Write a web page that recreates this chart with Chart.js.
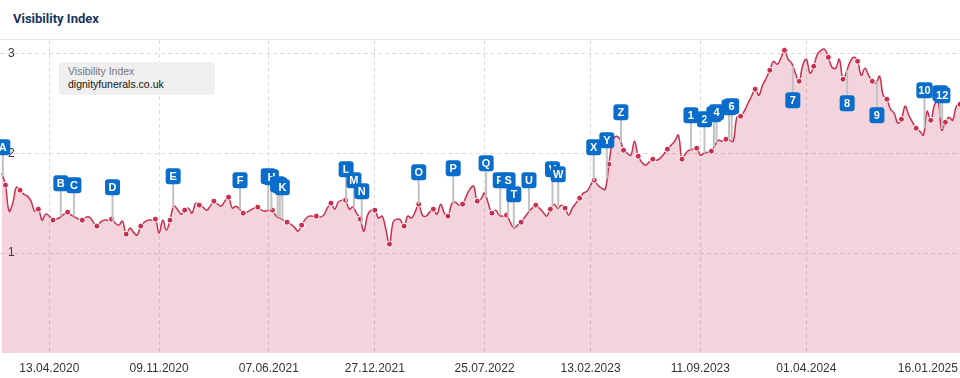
<!DOCTYPE html>
<html><head><meta charset="utf-8">
<script src="https://cdn.jsdelivr.net/npm/chart.js@4.4.1/dist/chart.umd.min.js"></script>
<style>
html,body{margin:0;padding:0;background:#fff;}
#wrap{position:relative;width:960px;height:378px;overflow:hidden;font-family:"Liberation Sans",Arial,sans-serif;}
#title{position:absolute;left:13px;top:11px;font:700 13px Roboto,sans-serif;color:#17375e;}
#sep{position:absolute;left:0;top:39px;width:960px;height:1px;background:#e6e6e6;}
#cv{position:absolute;left:0;top:40px;}
#legend{position:absolute;left:59px;top:62px;width:156px;height:33px;background:#efefef;border-radius:4px;box-sizing:border-box;padding:3px 0 0 9px;font-size:10.5px;line-height:13px;}
#legend .a{color:#777;}
#legend .b{color:#111;}
</style></head>
<body>
<div id="wrap">
  <div id="title">Visibility Index</div>
  <div id="sep"></div>
  <canvas id="cv" width="960" height="338"></canvas>
  <div id="legend"><div class="a">Visibility Index</div><div class="b">dignityfunerals.co.uk</div></div>
</div>
<script>
// ---- data ----
const startDate = '13.01.2020'; // first weekly value (Monday)
const visibility = [
1.80,1.68,1.42,1.50,1.66,1.63,1.59,1.57,1.52,1.42,
1.44,1.33,1.39,1.37,1.33,1.34,1.36,1.39,1.41,1.38,
1.36,1.34,1.33,1.36,1.36,1.31,1.27,1.31,1.33,1.33,
1.34,1.30,1.28,1.32,1.19,1.25,1.21,1.18,1.27,1.31,
1.33,1.33,1.34,1.20,1.33,1.23,1.33,1.47,1.44,1.39,
1.43,1.45,1.40,1.50,1.48,1.46,1.43,1.47,1.52,1.49,
1.47,1.52,1.56,1.45,1.47,1.44,1.40,1.41,1.43,1.45,
1.46,1.43,1.42,1.43,1.43,1.37,1.35,1.33,1.31,1.29,
1.26,1.22,1.28,1.34,1.37,1.37,1.37,1.36,1.38,1.45,
1.50,1.44,1.51,1.53,1.53,1.44,1.46,1.40,1.34,1.22,
1.38,1.43,1.43,1.35,1.37,1.24,1.09,1.31,1.34,1.33,
1.27,1.37,1.35,1.41,1.49,1.38,1.37,1.41,1.44,1.39,
1.49,1.40,1.37,1.49,1.51,1.48,1.49,1.57,1.64,1.67,
1.52,1.54,1.60,1.50,1.40,1.43,1.38,1.37,1.38,1.31,
1.25,1.28,1.31,1.36,1.41,1.45,1.48,1.45,1.41,1.37,
1.44,1.49,1.45,1.48,1.45,1.38,1.45,1.50,1.55,1.60,
1.62,1.68,1.73,1.68,1.65,1.64,1.89,2.12,2.17,2.14,
2.03,2.00,1.98,2.12,1.97,1.91,1.88,1.91,1.94,1.93,
1.95,1.99,2.04,2.08,2.12,2.18,1.94,2.00,2.03,2.04,
2.05,1.98,2.00,2.01,2.02,2.08,2.13,2.12,2.14,2.13,
2.12,2.36,2.37,2.42,2.50,2.57,2.64,2.58,2.68,2.75,
2.83,2.92,2.89,2.95,3.03,2.94,2.90,2.80,2.72,2.88,
2.94,2.80,2.87,2.99,3.03,3.04,2.96,2.86,2.85,2.94,
2.74,2.82,2.92,2.96,2.92,2.78,2.85,2.78,2.72,2.70,
2.77,2.58,2.54,2.44,2.40,2.30,2.34,2.47,2.38,2.31,
2.25,2.22,2.18,2.42,2.33,2.48,2.53,2.23,2.31,2.36,
2.33,2.47,2.49
];
const tickDates = ['13.04.2020','09.11.2020','07.06.2021','27.12.2021','25.07.2022','13.02.2023','11.09.2023','01.04.2024','16.01.2025'];
const yTicks = [1, 2, 3];
const markerLabels = ['A','B','C','D','E','F','G','H','I','J','K','L','M','N','O','P','Q','R','S','T','U','V','W','X','Y','Z','1','2','3','4','5','6','7','8','9','10','11','12'];
const markerDates = ['15.01.2020','05.05.2020','30.05.2020','12.08.2020','06.12.2020','13.04.2021','06.06.2021','12.06.2021','24.06.2021','28.06.2021','03.07.2021','02.11.2021','17.11.2021','02.12.2021','21.03.2022','26.05.2022','28.07.2022','24.08.2022','08.09.2022','19.09.2022','18.10.2022','02.12.2022','13.12.2022','19.02.2023','16.03.2023','12.04.2023','24.08.2023','19.09.2023','07.10.2023','12.10.2023','05.11.2023','10.11.2023','06.03.2024','18.06.2024','14.08.2024','13.11.2024','13.12.2024','17.12.2024'];

// ---- helpers ----
function toUTC(s){ const [d,m,y] = s.split('.').map(Number); return Date.UTC(y, m-1, d); }
const START = toUTC(startDate);
function weekOf(s){ return (toUTC(s) - START) / (7*864e5); }

// ---- layout (presentation) ----
const markerBoxLevels = [2.06,1.70,1.68,1.66,1.77,1.73,1.77,1.76,1.69,1.68,1.66,1.84,1.73,1.62,1.81,1.85,1.90,1.73,1.73,1.59,1.73,1.84,1.79,2.06,2.13,2.41,2.38,2.34,2.39,2.41,2.46,2.47,2.53,2.50,2.38,2.63,2.60,2.58];

const points = visibility.map((v,i)=>({x:i, y:v}));
const tickWeeks = tickDates.map(weekOf);

const markerPlugin = {
  id:'markers',
  afterDatasetsDraw(chart){
    const {ctx, scales:{x, y}} = chart;
    const items = markerDates.map((d,k)=>{
      const w = weekOf(d);
      const i0 = Math.max(0, Math.min(visibility.length-2, Math.floor(w)));
      const f = w - i0;
      const v = visibility[i0] + (visibility[i0+1]-visibility[i0])*f;
      return {label: markerLabels[k], px: x.getPixelForValue(w), lineY: y.getPixelForValue(v), boxY: y.getPixelForValue(markerBoxLevels[k])};
    });
    ctx.save();
    ctx.strokeStyle = '#c2c2c2'; ctx.lineWidth = 2;
    items.forEach(it=>{ ctx.beginPath(); ctx.moveTo(it.px, it.boxY); ctx.lineTo(it.px, it.lineY); ctx.stroke(); });
    ctx.font = 'bold 11px "Liberation Sans", Arial, sans-serif';
    items.forEach(it=>{
      const w = Math.max(15, ctx.measureText(it.label).width + 4), h = 16;
      ctx.fillStyle = '#0a6dcc';
      ctx.beginPath(); ctx.roundRect(it.px - w/2, it.boxY - h/2, w, h, 3); ctx.fill();
      ctx.fillStyle = '#fff'; ctx.textAlign = 'center'; ctx.textBaseline = 'middle';
      ctx.fillText(it.label, it.px, it.boxY + 0.5);
    });
    ctx.restore();
  }
};

new Chart(document.getElementById('cv'), {
  type:'line',
  data:{ datasets:[{
    data: points,
    borderColor:'#c8304f',
    borderWidth:1.5,
    backgroundColor:'rgba(200,40,80,0.2)',
    fill:'origin',
    tension:0.4,
    pointRadius: c => { const i = c.dataIndex; return ((i%4===2 && i>=10) || i===1 || i===5) ? 3 : 0; },
    pointBackgroundColor:'#c8304f',
    pointBorderColor:'#ffffff',
    pointBorderWidth:1
  }]},
  options:{
    responsive:false, animation:false, devicePixelRatio:1, events:[],
    layout:{padding:0, autoPadding:false},
    plugins:{legend:{display:false}, tooltip:{enabled:false}},
    scales:{
      x:{
        type:'linear', bounds:'data', min:-0.49, max:262.0,
        afterBuildTicks: s => { s.ticks = [{value:-0.49}].concat(tickWeeks.map(v=>({value:v}))); },
        afterFit: s => { s.height = 25; s.paddingLeft = 0; s.paddingRight = 0; },
        ticks:{ autoSkip:false, maxRotation:0, align:'inner', padding:8, color:'#333',
          font:{family:'"Liberation Sans", Arial, sans-serif', size:12},
          callback:(v,i)=> i===0 ? '' : tickDates[i-1] },
        grid:{ drawTicks:false, lineWidth:1,
          color: c => (c.index===0 || c.index===tickDates.length) ? 'rgba(0,0,0,0)' : '#dcdcdc' },
        border:{display:false, dash:[4,3]}
      },
      y:{
        min:0, max:3.133, position:'left',
        afterBuildTicks: s => { s.ticks = yTicks.map(v=>({value:v})); },
        afterFit: s => { s.width = 0; s.paddingTop = 0; s.paddingBottom = 0; },
        ticks:{ mirror:true, padding:8, color:'#333',
          font:{family:'"Liberation Sans", Arial, sans-serif', size:12},
          callback: v => String(v) },
        grid:{ drawTicks:false, color:'#dcdcdc', lineWidth:1 },
        border:{display:false, dash:[4,3]}
      }
    }
  },
  plugins:[markerPlugin]
});
</script>
</body></html>
